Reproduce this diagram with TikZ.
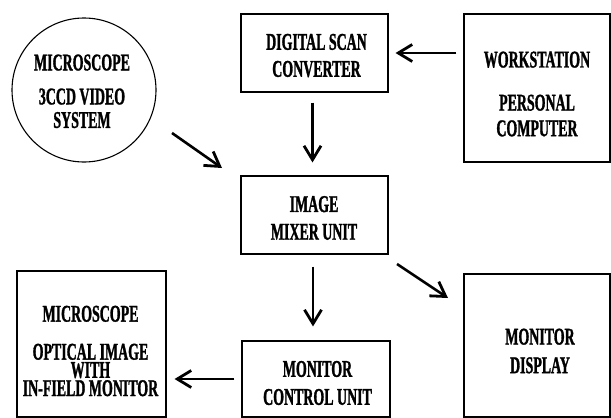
\documentclass[tikz,border=0pt]{standalone}
\usepackage{fontspec}
\newfontfamily\cf{Liberation Serif}[FakeStretch=0.58,FakeBold=1.2,BoldFont={Liberation Serif Bold},BoldFeatures={FakeStretch=0.58,FakeBold=1.2}]
\usetikzlibrary{arrows.meta,calc}
\begin{document}
\begin{tikzpicture}[x=1pt,y=-1pt,
  box/.style={draw,line width=1.1pt,inner sep=0pt},
  txt/.style={align=center,inner sep=0pt,font=\cf\bfseries\fontsize{24}{27}\selectfont},
  arr/.style={line width=2.6pt,-{Straight Barb[length=14pt,width=17pt,line width=2.8pt]}}]
\useasboundingbox (0,0) rectangle (611,418);
% boxes
\node[box,minimum width=147pt,minimum height=78pt] (dsc) at (314.5,53) {};
\node[box,minimum width=146pt,minimum height=148pt] (ws) at (537,88) {};
\node[box,circle,minimum size=144pt] (cam) at (84,90) {};
\node[box,minimum width=147pt,minimum height=78pt] (mix) at (314.5,215) {};
\node[box,minimum width=148pt,minimum height=76pt] (mcu) at (316,379) {};
\node[box,minimum width=146pt,minimum height=143pt] (md) at (537,345.5) {};
\node[box,minimum width=149pt,minimum height=146pt] (opt) at (91.5,344) {};
% texts
\node[txt] (tdsc) at (316.5,55.5) {DIGITAL SCAN\\CONVERTER};
\node[txt,font=\cf\bfseries\fontsize{24}{25.6}\selectfont] (tws) at (537,94) {WORKSTATION\\[17.5pt]PERSONAL\\COMPUTER};
\node[txt,font=\cf\bfseries\fontsize{24}{23.5}\selectfont] (tcam) at (82,91.3) {MICROSCOPE\\[10.5pt]3CCD VIDEO\\SYSTEM};
\node[txt,font=\cf\bfseries\fontsize{24}{27.7}\selectfont] (tmix) at (314,218) {IMAGE\\MIXER UNIT};
\node[txt,font=\cf\bfseries\fontsize{24}{28}\selectfont] (tmcu) at (317.5,383) {MONITOR\\CONTROL UNIT};
\node[txt,font=\cf\bfseries\fontsize{24}{28.6}\selectfont] (tmd) at (540,351) {MONITOR\\DISPLAY};
\node[txt,font=\cf\bfseries\fontsize{24}{18.2}\selectfont] (topt) at (90.5,351) {MICROSCOPE\\[19.8pt]OPTICAL IMAGE\\WITH\\IN-FIELD MONITOR};
% connectors
\coordinate (c1) at (172,133);
\coordinate (c2) at (222,168);
\coordinate (c3) at (397,264);
\coordinate (c4) at (448,298);
\draw[arr,shorten <=7pt,shorten >=7pt] (ws.west |- dsc.east) -- (dsc.east);
\draw[arr,shorten <=10pt,shorten >=13pt] ([xshift=-2pt]dsc.south) -- ([xshift=-2pt]mix.north);
\draw[arr] (c1) -- (c2);
\draw[arr,shorten <=12pt,shorten >=14pt] ([xshift=-1.5pt]mix.south) -- ([xshift=-1.5pt]mix.south |- mcu.north);
\draw[arr] (c3) -- (c4);
\draw[arr,shorten <=7pt,shorten >=8pt] (mcu.west) -- (mcu.west -| opt.east);
\end{tikzpicture}
\end{document}
